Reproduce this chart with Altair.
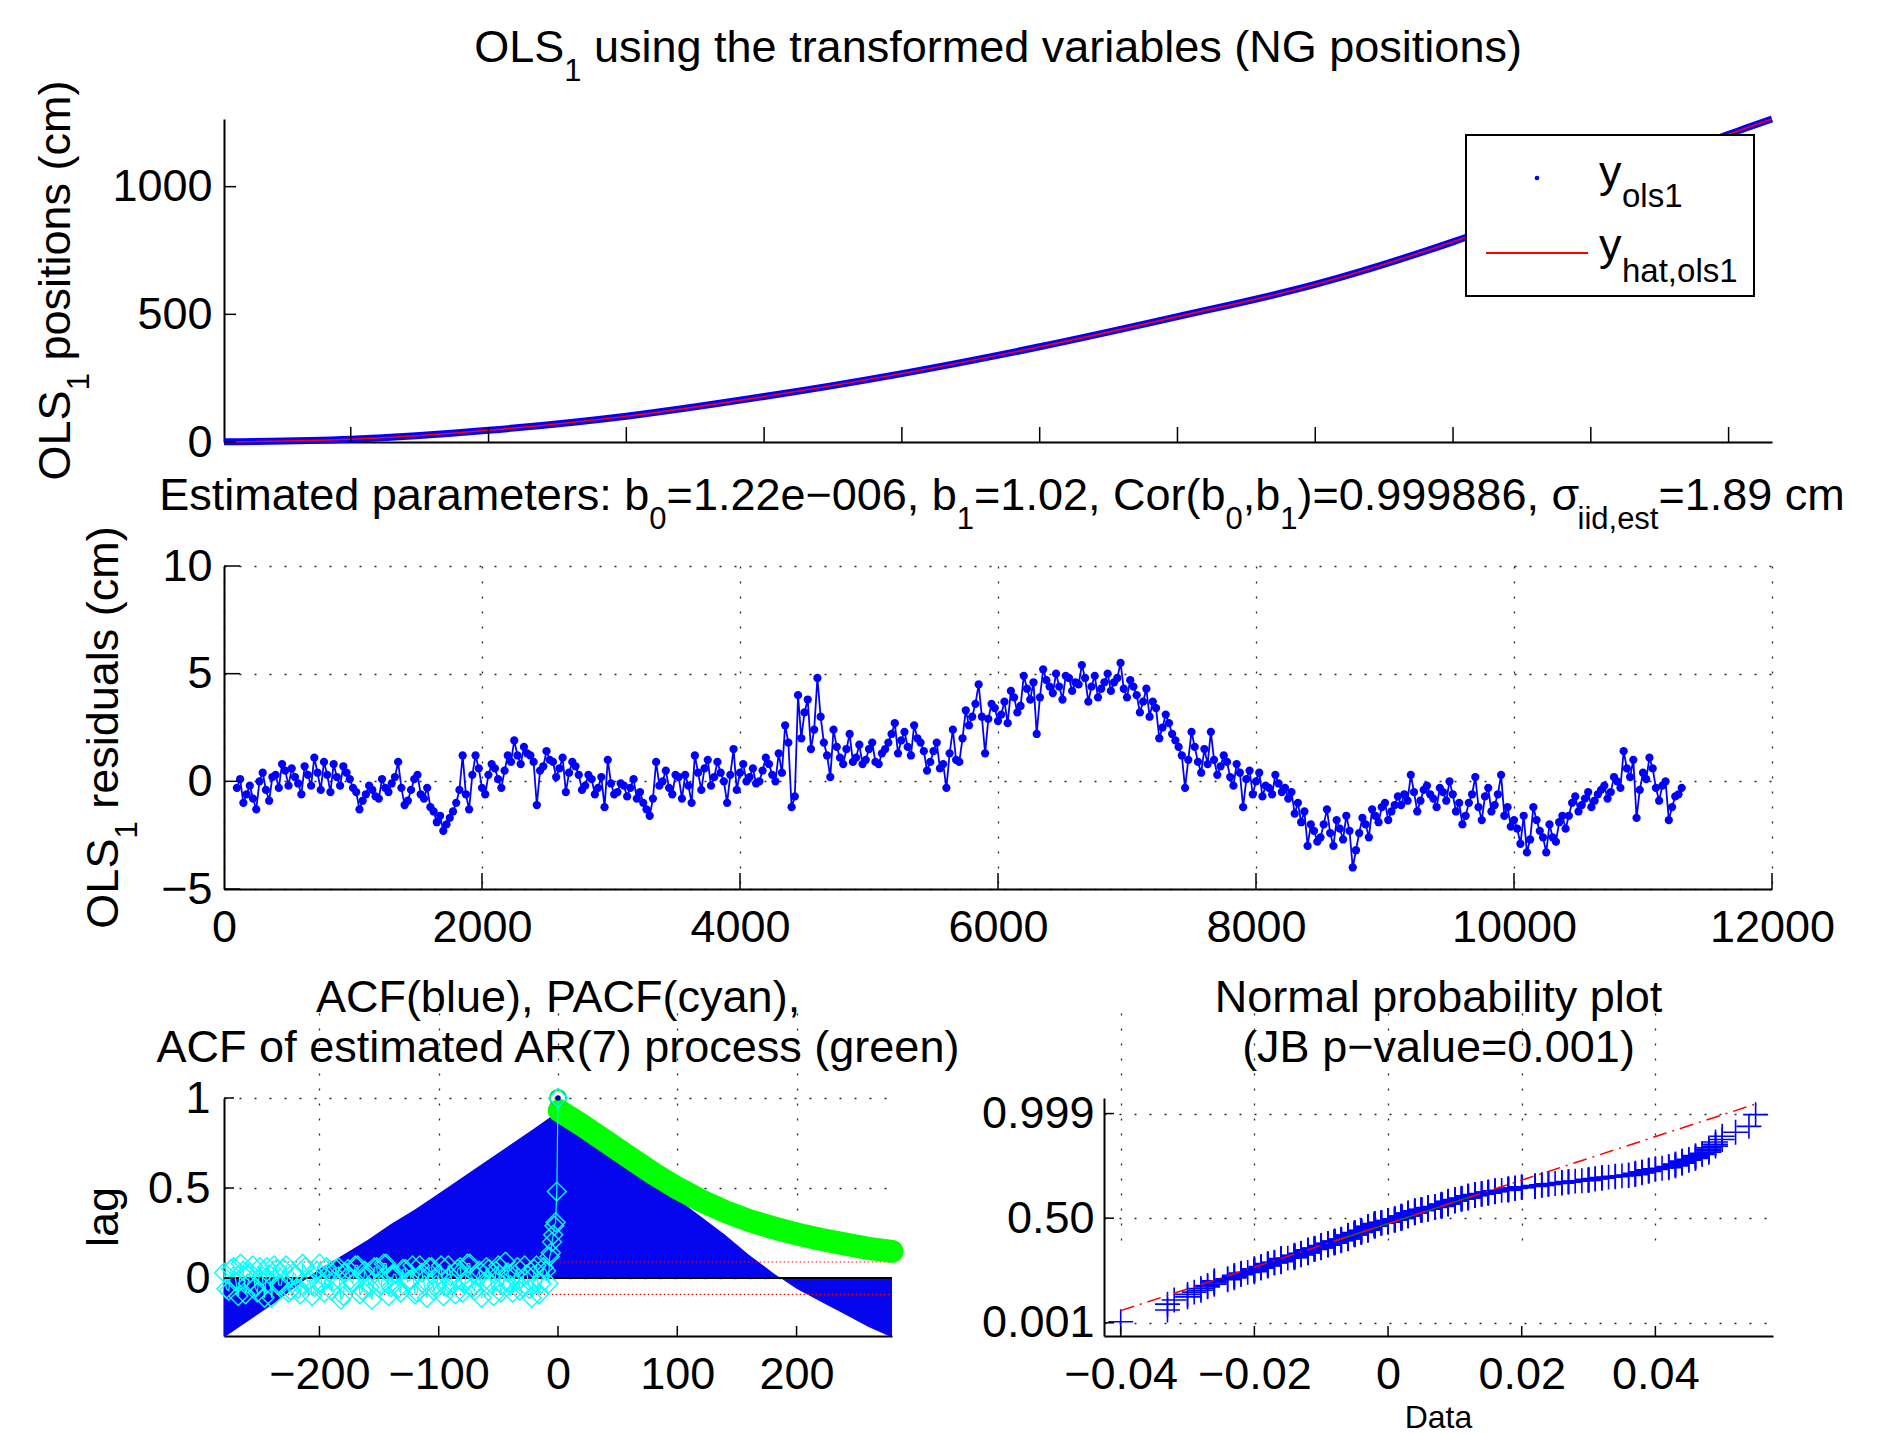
import altair as alt
import numpy as np
import pandas as pd
from statistics import NormalDist

FONT = "Liberation Sans"
BLUE = "#0000FF"

# ---------------- data ----------------
top_x = [80, 1000, 2000, 3000, 4000, 5000, 6000, 7000, 8000, 9000, 10000, 11000, 11315]
top_y = [0.5, 11, 46, 101, 178, 268, 373, 491, 617, 784, 985, 1205, 1265]

# residuals (cm), sampled every 50 from 100 and every 50 from 125
res_start_a = 100
res_start_b = 125
res_step = 50
res_a = [
    -0.3, -1.0, -0.2, -1.3, 0.4, -0.9, 0.3, 0.8, -0.2, 0.2,
    -0.6, 0.3, 1.1, -0.4, 0.3, 0.8, -0.2, 0.4, -0.3, -1.3,
    -0.6, -0.4, -0.8, -0.3, -0.1, 0.9, -1.1, -0.4, 0.3, -0.8,
    -1.2, -1.9, -2.3, -1.7, -1.0, 1.2, -1.3, 1.2, -0.3, 0.3,
    0.6, -0.3, 1.2, 1.9, 0.8, 1.3,
    0.9, 0.5, 1.4, 0.9, 0.6, -0.5, 0.9, 0.3, -0.2, 0.1,
    -0.3, -1.2, -0.1, -0.5, -0.2, -0.3, -0.8, -1.0, -1.6, 0.9,
    0.0, -0.3, 0.3, -0.8, -0.2, 1.2, -0.4, 1.0, 0.2, 0.4,
    -1.0, 1.5, 0.4, 0.0, 0.6, 0.0, 1.1, 0.3, 1.3, 2.6,
    -1.2, 4.0, 3.2, 1.5, 4.8,
    1.8, 0.2, 1.6, 0.8, 2.2, 1.1, 0.8, 1.5, 0.9, 1.3,
    1.8, 2.7, 1.9, 1.6, 2.6, 1.8, 0.5, 1.4, 0.6, -0.3,
    2.4, 0.9, 3.3, 3.0, 4.5, 1.3, 3.6, 2.8, 3.7, 4.2,
    3.2, 4.9, 3.8, 2.2, 5.2, 4.4, 5.0, 3.8, 4.8, 4.6,
    5.4, 3.7, 4.9, 4.3, 5.0,
    4.6, 5.5, 3.9, 4.4, 3.2, 4.3, 3.7, 2.0, 3.1, 2.2,
    1.6, -0.3, 2.3, 0.9, 1.5, 2.3, 0.3, 1.2, 0.2, 0.8,
    -1.2, 0.5, 0.0, -0.7, -0.3, 0.3, -0.5, -0.8, -1.5, -1.9,
    -3.0, -2.3, -2.6, -1.3, -3.0, -2.2, -1.6, -4.0, -2.4, -2.0,
    -1.3, -1.9, -1.0, -1.4, -0.7,
    -0.6, 0.3, -1.4, -0.4, -0.6, -1.2, -0.5, 0.0, -1.4, -2.0,
    -1.0, 0.2, -1.8, -0.3, -1.1, 0.3, -1.2, -1.8, -2.9, -3.3,
    -1.2, -2.3, -3.3, -2.6, -1.9, -2.2, -1.0, -1.4, -0.8, -1.2,
    -0.6, -0.2, -0.5, 0.0, 1.4, 0.2, -1.7, 0.4, 1.1, -0.3,
    -0.2, -1.8, -0.7, -0.3,
]
res_b = [
    0.1, -0.6, -0.8, 0.0, -0.4, 0.2, -0.3, 0.5, 0.6, -0.1,
    0.7, -0.2, 0.4, 0.9, -0.5, 0.2, 0.7, 0.1, -0.5, -0.9,
    -0.2, -0.7, 0.1, -0.5, 0.2, -0.3, -0.9, 0.1, -0.6, -0.3,
    -1.4, -1.6, -2.0, -1.4, -0.4, -0.6, 0.3, 0.6, -0.6, 0.8,
    0.1, 0.5, 0.9, 1.2, 1.6,
    1.2, -1.1, 0.7, 1.0, 0.2, 1.1, 0.4, 0.7, -0.4, 0.3,
    -0.6, 0.2, 1.0, -0.6, -0.1, -0.7, 0.1, -0.5, -1.3, -0.8,
    -0.2, 0.5, -0.6, 0.2, 0.3, -1.0, 0.4, 0.6, -0.2, 0.9,
    0.0, 0.3, -0.4, 0.8, 0.2, -0.1, 0.5, 0.8, 0.0, 0.4,
    1.8, -0.7, 2.0, 3.8, 2.4,
    3.0, 1.2, 2.4, 1.1, 1.5, 0.9, 1.7, 1.0, 1.8, 0.8,
    1.5, 2.2, 1.3, 2.3, 1.2, 2.0, 1.4, 0.9, 1.8, 0.8,
    1.3, 1.0, 2.0, 2.6, 3.6, 3.0, 2.9, 3.4, 3.1, 2.7,
    3.9, 3.5, 4.3, 4.6, 3.9, 4.7, 4.1, 4.4, 4.9, 4.2,
    4.5, 4.8, 4.4, 3.9, 4.6,
    4.2, 4.8, 4.3, 4.7, 4.0, 3.7, 3.0, 3.4, 2.5, 2.7,
    1.9, 1.2, 1.0, 1.6, 0.4, 0.8, 1.0, 0.7, 0.9, -0.2,
    0.4, 0.1, -0.6, 0.4, -0.2, -0.6, -0.1, -0.3, -0.5, -1.0,
    -1.4, -2.0, -2.8, -2.0, -2.4, -1.8, -2.7, -2.3, -3.2, -1.7,
    -2.6, -1.6, -1.2, -1.8, -1.1,
    -1.1, -0.9, -0.5, -0.9, -0.2, -0.8, -0.3, -0.9, -0.6, -1.0,
    -1.6, -0.6, -1.2, -0.7, -1.4, -0.6, -1.6, -2.1, -2.2, -1.6,
    -2.7, -1.8, -2.6, -2.0, -2.8, -1.6, -1.6, -0.7, -1.1, -0.5,
    -0.9, -0.4, -0.8, 0.2, -0.3, 0.6, 1.0, -0.4, 0.1, 0.6,
    -0.9, 0.0, -1.2, -0.6,
]

acf_lag = [-280, -260, -240, -220, -200, -180, -160, -140, -120, -100, -80, -60, -40, -20, -1,
           0, 1, 20, 40, 60, 80, 100, 120, 140, 160, 180, 200, 220, 240, 260, 280]
acf_val = [-0.33, -0.24, -0.15, -0.05, 0.05, 0.13, 0.21, 0.30, 0.38, 0.47, 0.56, 0.65, 0.74, 0.83, 0.92,
           1.0, 0.92, 0.83, 0.74, 0.64, 0.54, 0.44, 0.34, 0.24, 0.13, 0.03, -0.06, -0.13, -0.20, -0.27, -0.33]

ar_lag = [0, 1, 20, 40, 60, 80, 100, 120, 140, 160, 180, 200, 220, 240, 260, 280]
ar_val = [1.0, 0.93, 0.85, 0.76, 0.67, 0.58, 0.50, 0.43, 0.37, 0.32, 0.28, 0.245, 0.215, 0.19, 0.165, 0.148]

# PACF, two interleaved runs of lags (every 4 from -280 and every 4 from -278)
pacf_step = 4
pacf_start_a = -280
pacf_a = [0.03, -0.07, 0.06, -0.10, 0.04, -0.03, 0.07, -0.08, 0.01, 0.06,
          -0.11, 0.05, -0.04, 0.07, -0.07, 0.02, -0.09, 0.06, -0.01, -0.05,
          0.08, -0.08, 0.03, -0.02, 0.06, -0.10, 0.05, -0.03, 0.07, -0.07,
          0.01, -0.12, 0.06, -0.04, 0.08, -0.05, 0.02, -0.08, 0.05, -0.01,
          -0.09, 0.07, -0.04, 0.06, -0.07, 0.02, -0.10, 0.07, -0.03, 0.05,
          -0.08, 0.08, -0.05, 0.01, -0.11, 0.06, -0.03, 0.04, -0.08, 0.09,
          -0.04, 0.02, -0.07, 0.07, -0.06, 0.05, -0.09, 0.06, -0.03]
pacf_start_b = -278
pacf_b = [-0.06, 0.05, -0.02, 0.08, -0.09, 0.03, -0.05, 0.06, -0.11, 0.02,
          0.07, -0.04, 0.05, -0.08, 0.03, -0.06, 0.08, -0.02, -0.10, 0.04,
          -0.03, 0.06, -0.07, 0.05, -0.12, 0.03, -0.01, 0.07, -0.09, 0.04,
          -0.05, 0.06, -0.03, 0.08, -0.10, 0.02, -0.06, 0.05, -0.02, 0.07,
          -0.08, 0.03, -0.11, 0.06, -0.04, 0.07, -0.05, 0.01, -0.09, 0.06,
          -0.03, 0.08, -0.07, 0.04, -0.02, 0.05, -0.10, 0.07, -0.04, 0.03,
          -0.08, 0.06, -0.05, 0.02, -0.11, 0.07, -0.03, 0.04]
pacf_near_lag = [-7, -6, -5, -4, -3, -2, -1, 0]
pacf_near_val = [0.12, 0.14, 0.20, 0.24, 0.29, 0.31, 0.48, 1.0]

conf_bounds = [0.089, -0.091]
prob_ticks = [0.001, 0.5, 0.999]

# ---------------- helpers ----------------
W = {}
for c in "0123456789":
    W[c] = 556
W.update({" ": 278, "(": 333, ")": 333, ",": 278, ".": 278, ":": 278, "=": 584, "−": 584, "-": 333,
          "σ": 580})
W.update({"A": 667, "B": 667, "C": 722, "D": 722, "E": 667, "F": 611, "G": 778, "H": 722, "I": 278,
          "J": 500, "K": 667, "L": 556, "M": 833, "N": 722, "O": 778, "P": 667, "R": 722, "S": 667,
          "T": 611})
W.update({"a": 556, "b": 556, "c": 500, "d": 556, "e": 556, "f": 278, "g": 556, "h": 556, "i": 222,
          "j": 222, "k": 500, "l": 222, "m": 833, "n": 556, "o": 556, "p": 556, "q": 556, "r": 333,
          "s": 500, "t": 278, "u": 556, "v": 500, "w": 722, "x": 500, "y": 500, "z": 500})


def tw(s, size):
    return sum(W.get(c, 556) for c in s) * size / 1000.0


one = pd.DataFrame({"k": [0]})


def txt(s, x, y, size=45, align="left", angle=0):
    props = dict(text=s, font=FONT, fontSize=size, align=align, baseline="alphabetic", color="black")
    if angle:
        props["angle"] = angle
    return alt.Chart(one).mark_text(**props).encode(x=alt.value(x), y=alt.value(y))


def rich(pieces, cx, cy, angle=0):
    total = sum(tw(t, s) for t, s, d in pieces)
    pos = -total / 2.0
    out = []
    for t, s, d in pieces:
        lead = len(t) - len(t.lstrip(" "))
        if lead:
            pos += tw(" " * lead, s)
            t = t.lstrip(" ")
        if angle == 0:
            out.append(txt(t, cx + pos, cy + d, s))
        else:
            out.append(txt(t, cx + d, cy - pos, s, angle=270))
        pos += tw(t, s)
    return out


def xticks_in(vals, xenc, field, h, length):
    df = pd.DataFrame({field: vals})
    return alt.Chart(df).mark_rule(color="black", strokeWidth=1.5).encode(
        x=xenc, y=alt.value(h), y2=alt.value(h - length))


def yticks_in(vals, yenc, field, length):
    df = pd.DataFrame({field: vals})
    return alt.Chart(df).mark_rule(color="black", strokeWidth=1.5).encode(
        y=yenc, x=alt.value(0), x2=alt.value(length))


SUB = 31
DROP = 19

# ---------------- top panel ----------------
TW, TH = 1548, 323
top_df = pd.DataFrame({"x": top_x, "y": top_y})
tx = alt.X("x:Q", scale=alt.Scale(domain=[80, 11315], nice=False, zero=False),
           axis=alt.Axis(labels=False, grid=False, title=None))
ty = alt.Y("y:Q", scale=alt.Scale(domain=[0, 1265], nice=False),
           axis=alt.Axis(values=[0, 500, 1000], format="d", grid=False, title=None, labelPadding=12))
top_layers = [
    alt.Chart(top_df).mark_line(color=BLUE, strokeWidth=7, interpolate="monotone").encode(x=tx, y=ty),
    alt.Chart(top_df).mark_line(color="red", strokeWidth=1.6, interpolate="monotone").encode(x=tx, y=ty),
    xticks_in(list(range(1000, 11001, 1000)), tx, "x", TH, 15),
    yticks_in([0, 500, 1000], ty, "y", 12),
    alt.Chart(one).mark_rect(fill="white", stroke="black", strokeWidth=2).encode(
        x=alt.value(1242), x2=alt.value(1530), y=alt.value(16), y2=alt.value(177)),
    alt.Chart(one).mark_circle(color=BLUE, size=22, opacity=1).encode(x=alt.value(1313), y=alt.value(59)),
    alt.Chart(one).mark_rule(color="red", strokeWidth=2).encode(
        x=alt.value(1262), x2=alt.value(1364), y=alt.value(134)),
    txt("y", 1375, 68, 45), txt("ols1", 1398, 88, 33),
    txt("y", 1375, 141, 45), txt("hat,ols1", 1398, 163, 33),
]
top_layers += rich([("OLS", 45, 0), ("1", SUB, DROP), (" using the transformed variables (NG positions)", 45, 0)],
                   774, -57)
top_layers += rich([("OLS", 45, 0), ("1", SUB, DROP), (" positions (cm)", 45, 0)], -154, 161.5, angle=270)
top = alt.layer(*top_layers).properties(width=TW, height=TH)

# ---------------- middle panel ----------------
res_df = pd.DataFrame({
    "x": [res_start_a + res_step * i for i in range(len(res_a))] + [res_start_b + res_step * i for i in range(len(res_b))],
    "y": res_a + res_b,
}).sort_values("x").reset_index(drop=True)
mx = alt.X("x:Q", scale=alt.Scale(domain=[0, 12000], nice=False, zero=False),
           axis=alt.Axis(values=list(range(0, 12001, 2000)), format="d", grid=True, title=None, labelPadding=16))
my = alt.Y("y:Q", scale=alt.Scale(domain=[-5, 10], nice=False),
           axis=alt.Axis(values=[-5, 0, 5, 10], format="d", grid=True, title=None, labelPadding=12))
mid_layers = [
    alt.Chart(res_df).mark_line(color=BLUE, strokeWidth=1.8).encode(x=mx, y=my),
    alt.Chart(res_df).mark_circle(color=BLUE, size=68, opacity=1).encode(x=mx, y=my),
    xticks_in(list(range(2000, 12001, 2000)), mx, "x", TH, 16),
    yticks_in([-5, 0, 5, 10], my, "y", 16),
]
mid_layers += rich([("Estimated parameters: b", 45, 0), ("0", SUB, DROP), ("=1.22e−006, b", 45, 0),
                    ("1", SUB, DROP), ("=1.02, Cor(b", 45, 0), ("0", SUB, DROP), (",b", 45, 0),
                    ("1", SUB, DROP), (")=0.999886, σ", 45, 0), ("iid,est", SUB, DROP), ("=1.89 cm", 45, 0)],
                   778, -56)
mid_layers += rich([("OLS", 45, 0), ("1", SUB, DROP), (" residuals (cm)", 45, 0)], -106, 161.5, angle=270)
middle = alt.layer(*mid_layers).properties(width=TW, height=TH)

# ---------------- bottom row (plot area occupies y 85..323 of each group) ----------------
BW, BH, OFF = 668, 323, 85

acf_df = pd.DataFrame({"lag": acf_lag, "v": acf_val})
ax = alt.X("lag:Q", scale=alt.Scale(domain=[-280, 280], nice=False, zero=False),
           axis=alt.Axis(values=[-200, -100, 0, 100, 200], format="d", grid=True, title=None, labelPadding=16))
ay = alt.Y("v:Q", scale=alt.Scale(domain=[-0.322, 1], nice=False, range=[BH, OFF]),
           axis=alt.Axis(values=[0, 0.5, 1], format="~g", grid=True, title=None, labelPadding=14))
ar_df = pd.DataFrame({"lag": ar_lag, "v": ar_val})
pacf_df = pd.DataFrame({
    "lag": [pacf_start_a + pacf_step * i for i in range(len(pacf_a))]
    + [pacf_start_b + pacf_step * i for i in range(len(pacf_b))] + pacf_near_lag,
    "v": pacf_a + pacf_b + pacf_near_val}).sort_values("lag").reset_index(drop=True)
conf_df = pd.DataFrame({"v": conf_bounds})
acf_layers = [
    alt.Chart(acf_df).mark_area(color="#0505EE", opacity=1, clip=True).encode(x=ax, y=ay, y2=alt.datum(0)),
    alt.Chart(one).mark_rule(color="black", strokeWidth=2).encode(
        x=alt.datum(-280), x2=alt.datum(280), y=alt.datum(0)),
    alt.Chart(conf_df).mark_rule(color="red", strokeWidth=1.2, strokeDash=[1.5, 2.5]).encode(
        x=alt.datum(-240), x2=alt.datum(280), y=ay),
    alt.Chart(ar_df[ar_df["lag"] > 0]).mark_line(color="#00FF00", strokeWidth=23, strokeCap="round").encode(
        x=ax, y=ay),
    alt.Chart(ar_df[ar_df["lag"] == 0]).mark_point(color="#00DD00", size=260, strokeWidth=2, filled=False,
                                                  opacity=1).encode(x=ax, y=ay),
    alt.Chart(pacf_df).mark_line(color="cyan", strokeWidth=1.2).encode(x=ax, y=ay),
    alt.Chart(pacf_df).mark_point(shape="diamond", color="cyan", size=360, strokeWidth=1.4, filled=False,
                                  opacity=1).encode(x=ax, y=ay),
    alt.Chart(acf_df[acf_df["lag"] == 0]).mark_circle(color="#0000AA", size=30, opacity=1).encode(x=ax, y=ay),
    xticks_in([-200, -100, 0, 100, 200], ax, "lag", BH, 10),
    yticks_in([0, 0.5, 1], ay, "v", 10),
    txt("ACF(blue), PACF(cyan),", 334, OFF - 86, 45, align="center"),
    txt("ACF of estimated AR(7) process (green)", 334, OFF - 36, 45, align="center"),
    txt("lag", -106, OFF + 119, 45, align="center", angle=270),
]
acf = alt.layer(*acf_layers).properties(width=BW, height=BH)

# ---- normal probability plot of the residuals (metres) ----
NW = 669
nd = NormalDist()
res_sorted = np.sort(np.array(res_a + res_b)) / 100.0
n = len(res_sorted)
npp_df = pd.DataFrame({"x": res_sorted, "z": [nd.inv_cdf((i + 0.5) / n) for i in range(n)]})
q1, q3 = np.percentile(res_sorted, [25, 75])
zq = nd.inv_cdf(0.75)
slope = 2 * zq / (q3 - q1)
mid = (q1 + q3) / 2


def fit_z(x):
    return (x - mid) * slope


fit_all = pd.DataFrame({"x": [res_sorted[0], res_sorted[-1]], "z": [fit_z(res_sorted[0]), fit_z(res_sorted[-1])]})
fit_iqr = pd.DataFrame({"x": [q1, q3], "z": [fit_z(q1), fit_z(q3)]})
z_ticks = [nd.inv_cdf(p) for p in prob_ticks]

nx = alt.X("x:Q", scale=alt.Scale(domain=[-0.0425, 0.0576], nice=False, zero=False),
           axis=alt.Axis(values=[-0.04, -0.02, 0, 0.02, 0.04], format="~g", grid=True, title=None,
                         labelPadding=16))
ny = alt.Y("z:Q", scale=alt.Scale(domain=[-3.48, 3.55], nice=False, zero=False, range=[BH, OFF]),
           axis=alt.Axis(values=z_ticks, grid=True, title=None, labelPadding=10,
                         labelExpr="datum.value < -1 ? '0.001' : (datum.value > 1 ? '0.999' : '0.50')"))
PLUS = "M-1,0L1,0M0,-1L0,1"
npp_layers = [
    alt.Chart(npp_df).mark_point(shape=PLUS, color=BLUE, size=620, strokeWidth=1.6, filled=False,
                                 opacity=1).encode(x=nx, y=ny),
    alt.Chart(fit_iqr).mark_line(color="#008000", strokeWidth=1.5).encode(x=nx, y=ny),
    alt.Chart(fit_all).mark_line(color="red", strokeWidth=1.5, strokeDash=[14, 6, 2, 6]).encode(x=nx, y=ny),
    xticks_in([-0.04, -0.02, 0, 0.02, 0.04], nx, "x", BH, 10),
    yticks_in(z_ticks, ny, "z", 10),
    txt("Normal probability plot", 334.5, OFF - 86, 45, align="center"),
    txt("(JB p−value=0.001)", 334.5, OFF - 36, 45, align="center"),
    txt("Data", 334.5, OFF + 329.5, 32, align="center"),
]
npp = alt.layer(*npp_layers).properties(width=NW, height=BH)

# ---------------- layout ----------------
bottom = alt.hconcat(acf, npp, spacing=212, bounds="flush")
chart = alt.vconcat(top, middle, bottom, spacing=124, bounds="flush").properties(
    padding={"left": 224, "top": 119, "right": 1673, "bottom": 1315},
    autosize=alt.AutoSizeParams(type="none"),
    background="white",
).configure_view(stroke=None).configure_axis(
    labelFont=FONT, labelFontSize=45, labelColor="black", domainColor="black", domainWidth=2,
    ticks=False, labelFlush=False, labelOverlap=False, gridColor="black", gridDash=[2, 13],
    gridWidth=1.3, gridOpacity=0.85, titleFont=FONT,
)

chart.save("out.html", embed_options={"renderer": "svg", "actions": False})
